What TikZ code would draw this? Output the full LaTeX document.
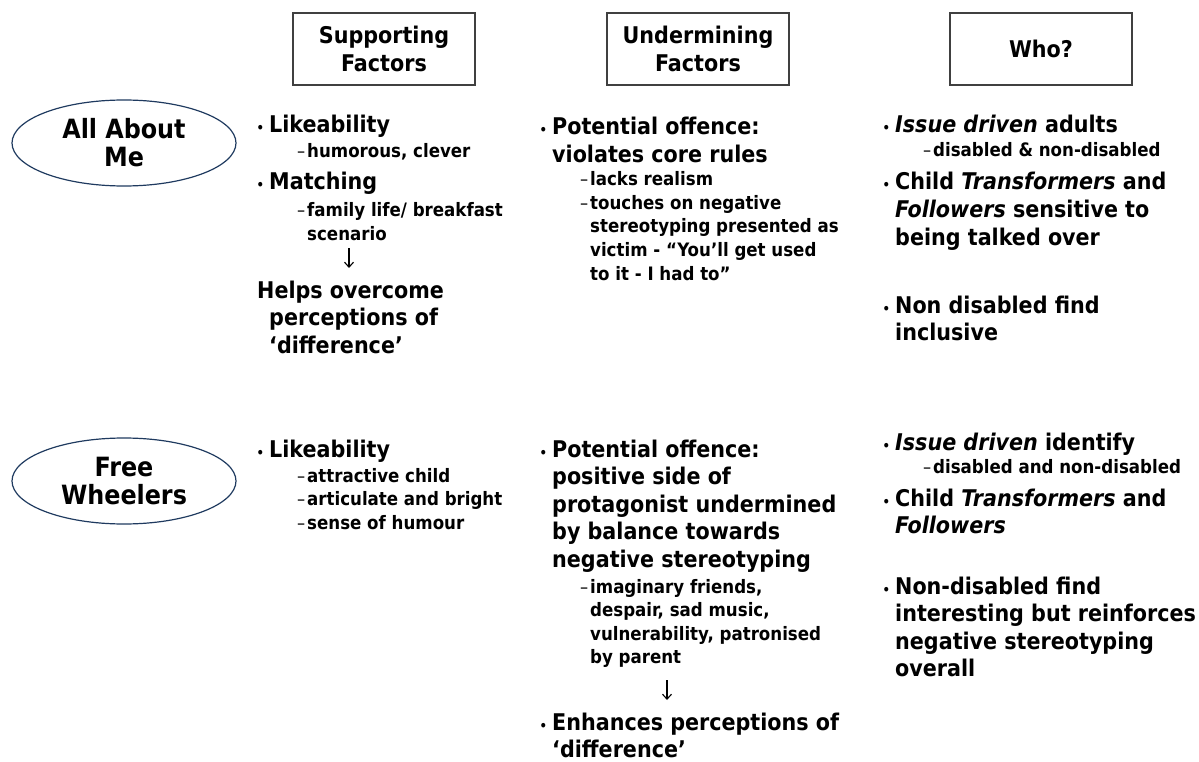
\documentclass[tikz,border=0pt]{standalone}
\usepackage{fontspec}
\setmainfont{DejaVu Sans Condensed}
\usetikzlibrary{shapes.geometric,arrows.meta}
\definecolor{navyline}{HTML}{1F3A5F}
\definecolor{boxline}{HTML}{404040}
\newcommand{\mainfnt}{\fontsize{23}{27.5}\selectfont\bfseries}
\newcommand{\subfnt}{\fontsize{18.5}{23.5}\selectfont\bfseries}
\newcommand{\bul}{\leavevmode\llap{{\fontsize{13}{13}\selectfont\textbullet}\hspace{5pt}}}
\newcommand{\dsh}{\leavevmode\llap{{\mdseries\fontsize{18}{18}\selectfont\textendash}\hspace{2pt}}}
\newcommand{\mtxt}[1]{\parbox[t]{320pt}{\mainfnt #1}}
\newcommand{\stxt}[1]{\parbox[t]{300pt}{\subfnt #1}}

\begin{document}
\begin{tikzpicture}[x=1pt,y=-1pt,
    head/.style={draw=boxline,line width=1.3pt,minimum width=182pt,minimum height=72pt,align=center,font=\mainfnt,inner sep=0pt},
    topic/.style={ellipse,draw=navyline,line width=1.2pt,minimum width=224pt,minimum height=86pt,align=center,font=\fontsize{26.5}{28}\selectfont\bfseries,inner sep=0pt},
    txt/.style={anchor=base west,inner sep=0pt},
    arr/.style={-{Straight Barb[length=5pt,width=9pt]},line width=1.1pt}]
            \useasboundingbox (0,0) rectangle (1199,762);
            \node[head] (supp) at (384,49) {Supporting\\Factors};
            \node[head] (under) at (698,49) {Undermining\\Factors};
            \node[head] (who) at (1041,49) {Who?};
            \node[topic] (aam) at (124,143) {All About\\Me};
            \node[topic] (fw) at (124,481) {Free\\Wheelers};
            \node[txt] (like1) at (269,133) {\mtxt{\bul Likeability}};
            \node[txt] (likesub1) at (307,158) {\stxt{\dsh humorous, clever}};
            \node[txt] (match1) at (269,190) {\mtxt{\bul Matching}};
            \node[txt] (matchsub1) at (307,217) {\stxt{\dsh family life/ breakfast\\scenario}};
            \coordinate (a1) at (349,248);
            \coordinate (b1) at (349,268);
            \draw[arr] (a1) -- (b1);
            \node[txt] (helps1) at (269,298) {\mtxt{\hspace*{-12pt}Helps overcome\\perceptions of\\‘difference’}};
            \node[txt] (pot1) at (552,135) {\mtxt{\bul Potential offence:\\violates core rules}};
            \node[txt] (potsub1) at (590,186) {\stxt{\dsh lacks realism\\\dsh touches on negative\\stereotyping presented as\\victim - “You’ll get used\\to it - I had to”}};
            \node[txt] (iss1) at (895,133) {\mtxt{\bul \textit{Issue driven} adults}};
            \node[txt] (isssub1) at (933,157) {\stxt{\dsh disabled \& non-disabled}};
            \node[txt] (child1) at (895,190) {\mtxt{\bul Child \textit{Transformers} and\\\textit{Followers} sensitive to\\being talked over}};
            \node[txt] (non1) at (895,313) {\mtxt{\bul Non disabled find\\inclusive}};
            \node[txt] (like2) at (269,457) {\mtxt{\bul Likeability}};
            \node[txt] (likesub2) at (307,482) {\stxt{\dsh attractive child\\\dsh articulate and bright\\\dsh sense of humour}};
            \node[txt] (pot2) at (552,457) {\mtxt{\bul Potential offence:\\positive side of\\protagonist undermined\\by balance towards\\negative stereotyping}};
            \node[txt] (potsub2) at (590,593) {\stxt{\dsh imaginary friends,\\despair, sad music,\\vulnerability, patronised\\by parent}};
            \coordinate (a2) at (667,680);
            \coordinate (b2) at (667,700);
            \draw[arr] (a2) -- (b2);
            \node[txt] (enh2) at (552,730) {\mtxt{\bul Enhances perceptions of\\‘difference’}};
            \node[txt] (iss2) at (895,450) {\mtxt{\bul \textit{Issue driven} identify}};
            \node[txt] (isssub2) at (933,473) {\stxt{\dsh disabled and non-disabled}};
            \node[txt] (child2) at (895,506) {\mtxt{\bul Child \textit{Transformers} and\\\textit{Followers}}};
            \node[txt] (non2) at (895,594) {\mtxt{\bul Non-disabled find\\interesting but reinforces\\negative stereotyping\\overall}};
        \end{tikzpicture}
\end{document}
